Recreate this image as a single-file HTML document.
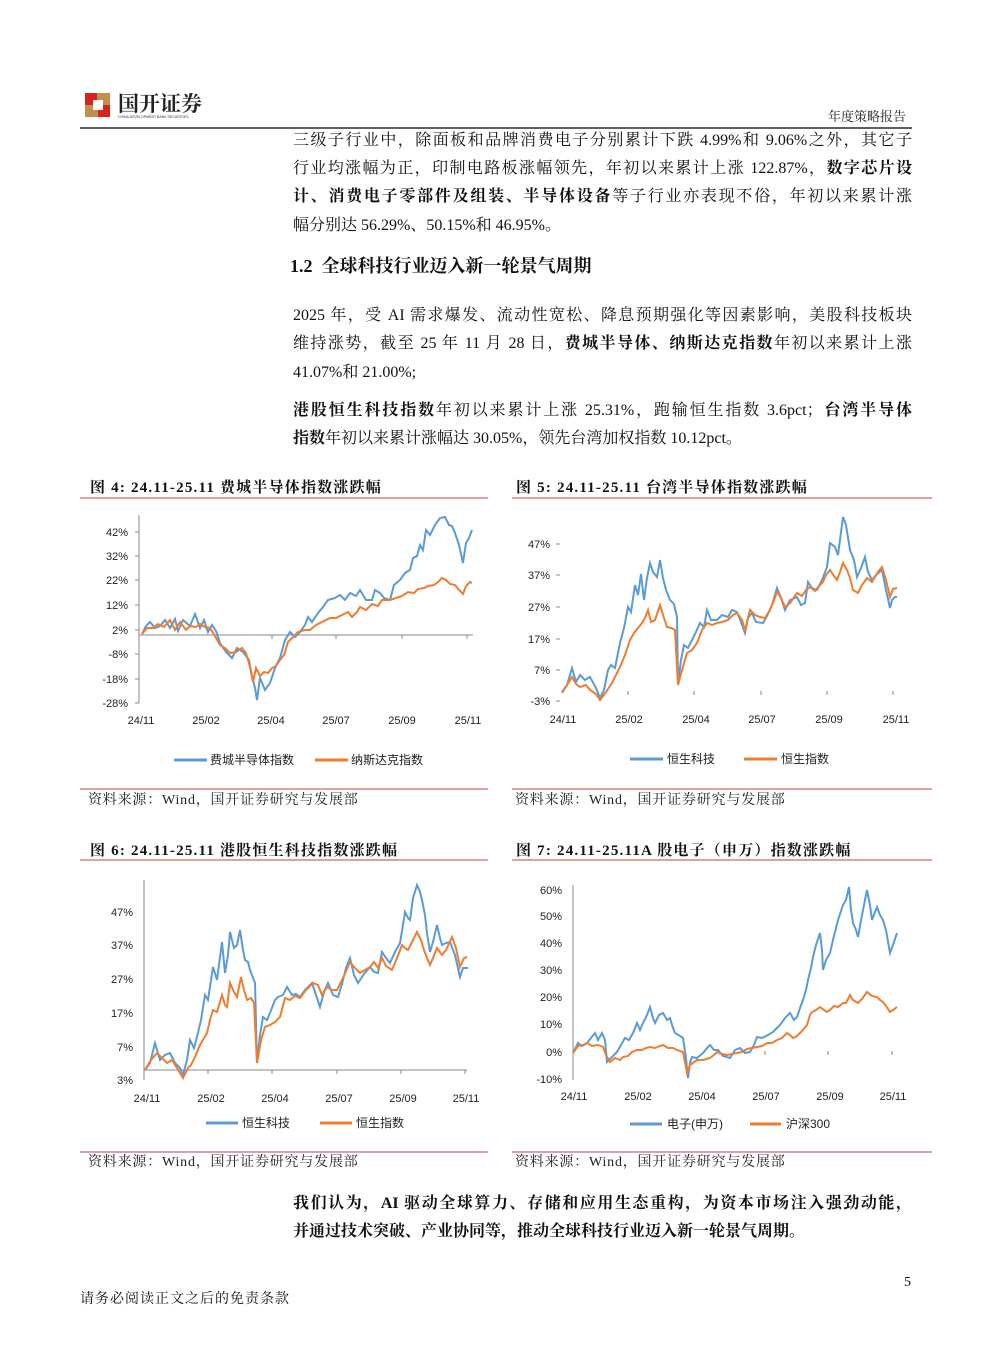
<!DOCTYPE html>
<html><head><meta charset="utf-8">
<style>
body{margin:0;background:#fff;}
#pg{position:relative;width:992px;height:1347px;overflow:hidden;background:#fff;font-family:"Liberation Serif","Noto Serif CJK SC",serif;color:#111;}
.t{position:absolute;font-size:16px;line-height:20px;white-space:nowrap;}
.j{width:619px;text-align:justify;text-align-last:justify;white-space:normal;height:20px;overflow:hidden;}
b{font-weight:bold;}
svg{position:absolute;left:0;top:0;}
</style></head><body><div id="pg">
<svg width="992" height="1347" viewBox="0 0 992 1347" font-family="Liberation Sans, Noto Sans CJK SC, sans-serif">
<!-- logo -->
<rect x="85" y="93" width="25" height="24" fill="#c0914e"/>
<rect x="85" y="93" width="12" height="12" fill="#d9211d"/>
<rect x="98" y="105" width="12" height="12" fill="#d9211d"/>
<rect x="93" y="100" width="10" height="10" fill="#fff"/>
<text x="118" y="111" font-size="21" font-weight="bold" font-family="Noto Serif CJK SC, serif" fill="#222">国开证券</text>
<text x="118" y="118" font-size="3.5" fill="#333">CHINA DEVELOPMENT BANK SECURITIES</text>
<text x="906" y="121" font-size="13" text-anchor="end" font-family="Noto Serif CJK SC, serif" fill="#222">年度策略报告</text>
<line x1="80" y1="128" x2="912" y2="128" stroke="#000" stroke-width="1.2"/>

<!-- figure frames -->
<g stroke="#d98080" stroke-width="1.5">
<line x1="80" y1="498" x2="488" y2="498"/><line x1="512" y1="498" x2="932" y2="498"/>
<line x1="80" y1="789" x2="488" y2="789"/><line x1="512" y1="789" x2="932" y2="789"/>
<line x1="80" y1="860" x2="488" y2="860"/><line x1="512" y1="860" x2="932" y2="860"/>
<line x1="80" y1="1152" x2="488" y2="1152"/><line x1="512" y1="1152" x2="932" y2="1152"/>
</g>
<g font-family="Liberation Serif, Noto Serif CJK SC, serif" font-size="15" font-weight="bold" fill="#111" letter-spacing="1.2">
<text x="90" y="492">图 4:  24.11-25.11 费城半导体指数涨跌幅</text>
<text x="516" y="492">图 5:  24.11-25.11 台湾半导体指数涨跌幅</text>
<text x="90" y="855">图 6:  24.11-25.11 港股恒生科技指数涨跌幅</text>
<text x="516" y="855">图 7:  24.11-25.11A 股电子（申万）指数涨跌幅</text>
</g>
<g font-family="Liberation Serif, Noto Serif CJK SC, serif" font-size="14" fill="#222" letter-spacing="0.8">
<text x="88" y="804">资料来源：Wind，国开证券研究与发展部</text>
<text x="515" y="804">资料来源：Wind，国开证券研究与发展部</text>
<text x="88" y="1166">资料来源：Wind，国开证券研究与发展部</text>
<text x="515" y="1166">资料来源：Wind，国开证券研究与发展部</text>
</g>

<g font-size="11" fill="#222">
<!-- chart 4 -->
<line x1="139" y1="515" x2="139" y2="703" stroke="#888"/>
<line x1="139" y1="635" x2="473" y2="635" stroke="#888"/>
<g stroke="#888"><line x1="135" y1="532" x2="139" y2="532"/><line x1="135" y1="556" x2="139" y2="556"/><line x1="135" y1="580" x2="139" y2="580"/><line x1="135" y1="605" x2="139" y2="605"/><line x1="135" y1="630" x2="139" y2="630"/><line x1="135" y1="654" x2="139" y2="654"/><line x1="135" y1="679" x2="139" y2="679"/><line x1="135" y1="703" x2="139" y2="703"/>
<line x1="272" y1="635" x2="272" y2="639"/><line x1="336" y1="635" x2="336" y2="639"/><line x1="402" y1="635" x2="402" y2="639"/><line x1="467" y1="635" x2="467" y2="639"/></g>
<g text-anchor="end"><text x="128" y="536">42%</text><text x="128" y="560">32%</text><text x="128" y="584">22%</text><text x="128" y="609">12%</text><text x="128" y="634">2%</text><text x="128" y="658">-8%</text><text x="128" y="683">-18%</text><text x="128" y="707">-28%</text></g>
<g text-anchor="middle"><text x="141" y="724">24/11</text><text x="206" y="724">25/02</text><text x="271" y="724">25/04</text><text x="336" y="724">25/07</text><text x="402" y="724">25/09</text><text x="468" y="724">25/11</text></g>
<polyline fill="none" stroke="#5b9bd5" stroke-width="2" points="142,634 146,626 150,622 155,628 160,626 165,620 170,628 175,619 178,631 183,620 190,626 195,614 200,628 204,620 208,632 212,625 216,631 220,643 226,652 232,658 237,648 243,652 249,660 252,676 255,688 257,700 260,678 265,690 270,683 275,668 280,658 285,640 290,632 295,637 300,632 305,625 308,617 312,622 318,613 323,607 328,600 335,598 340,595 345,600 350,593 356,596 360,590 366,600 372,600 375,590 380,593 384,598 390,600 394,585 400,580 405,573 410,570 413,558 417,556 420,545 423,550 426,530 430,535 435,525 440,518 445,517 449,525 452,526 455,533 459,545 463,563 466,543 469,538 472,530"/>
<polyline fill="none" stroke="#ed7d31" stroke-width="2" points="142,634 147,628 153,628 158,624 164,627 170,620 175,630 180,622 186,630 190,626 196,627 200,624 205,627 210,628 215,636 220,645 225,648 230,653 236,652 242,648 246,653 250,667 253,682 256,668 260,676 264,672 268,673 272,668 276,666 280,660 284,655 288,642 292,638 298,632 305,630 310,630 316,625 322,622 330,618 336,618 342,615 348,612 352,617 357,612 360,607 366,610 372,604 378,606 382,600 390,600 396,598 402,596 408,592 414,593 418,589 424,588 428,586 434,585 438,582 442,578 446,580 450,584 455,585 459,590 463,594 466,586 470,582 472,583"/>
<line x1="174" y1="760" x2="207" y2="760" stroke="#5b9bd5" stroke-width="3"/>
<text x="210" y="764" font-size="12">费城半导体指数</text>
<line x1="315" y1="760" x2="348" y2="760" stroke="#ed7d31" stroke-width="3"/>
<text x="351" y="764" font-size="12">纳斯达克指数</text>

<!-- chart 5 -->
<g stroke="#888"><line x1="556" y1="544" x2="560" y2="544"/><line x1="556" y1="575" x2="560" y2="575"/><line x1="556" y1="607" x2="560" y2="607"/><line x1="556" y1="639" x2="560" y2="639"/><line x1="556" y1="670" x2="560" y2="670"/><line x1="556" y1="701" x2="560" y2="701"/>
<line x1="628" y1="691" x2="628" y2="695"/><line x1="694" y1="691" x2="694" y2="695"/><line x1="761" y1="691" x2="761" y2="695"/><line x1="827" y1="691" x2="827" y2="695"/><line x1="893" y1="691" x2="893" y2="695"/></g>
<g text-anchor="end"><text x="550" y="548">47%</text><text x="550" y="579">37%</text><text x="550" y="611">27%</text><text x="550" y="643">17%</text><text x="550" y="674">7%</text><text x="550" y="705">-3%</text></g>
<g text-anchor="middle"><text x="563" y="723">24/11</text><text x="629" y="723">25/02</text><text x="696" y="723">25/04</text><text x="762" y="723">25/07</text><text x="829" y="723">25/09</text><text x="896" y="723">25/11</text></g>
<polyline fill="none" stroke="#5b9bd5" stroke-width="2" points="562,692 567,685 572,668 576,682 580,675 585,680 590,677 596,688 600,698 604,690 608,670 611,665 615,668 620,643 624,628 628,607 631,612 635,585 638,595 641,574 644,600 647,578 650,563 653,572 657,577 660,560 663,578 666,590 670,600 674,604 677,617 678,683 681,660 684,645 688,648 692,640 696,632 700,623 704,627 707,610 711,620 717,620 722,615 728,617 732,610 737,612 741,622 745,633 748,618 752,613 756,622 763,623 767,616 772,605 777,588 781,598 785,610 790,600 797,597 801,605 805,603 808,582 812,588 817,590 822,580 827,567 830,543 835,547 838,555 843,517 846,525 850,550 854,560 857,577 861,568 865,557 868,572 872,580 876,575 882,570 886,590 890,608 892,600 895,597 897,597"/>
<polyline fill="none" stroke="#ed7d31" stroke-width="2" points="562,693 567,685 572,677 576,684 580,687 586,685 590,690 596,694 600,700 606,692 612,683 620,667 625,655 630,640 634,633 638,628 642,623 645,618 648,610 651,622 655,620 660,605 664,618 667,627 671,628 675,630 678,685 682,670 687,653 692,650 697,643 702,630 707,623 712,625 717,623 722,622 728,620 733,615 737,613 742,620 745,630 750,610 755,615 760,617 765,618 770,610 774,600 777,592 781,598 785,607 790,603 797,593 802,596 806,590 810,587 815,591 818,587 823,582 826,575 830,570 834,576 837,580 840,572 843,563 847,570 850,578 853,590 858,593 862,585 867,578 872,582 878,572 882,567 886,580 890,597 893,589 897,588"/>
<line x1="630" y1="759" x2="663" y2="759" stroke="#5b9bd5" stroke-width="3"/>
<text x="667" y="763" font-size="12">恒生科技</text>
<line x1="744" y1="759" x2="777" y2="759" stroke="#ed7d31" stroke-width="3"/>
<text x="781" y="763" font-size="12">恒生指数</text>

<!-- chart 6 -->
<line x1="144" y1="880" x2="144" y2="1080" stroke="#888"/>
<line x1="144" y1="1070" x2="467" y2="1070" stroke="#888"/>
<g stroke="#888"><line x1="208" y1="1070" x2="208" y2="1074"/><line x1="272" y1="1070" x2="272" y2="1074"/><line x1="337" y1="1070" x2="337" y2="1074"/><line x1="401" y1="1070" x2="401" y2="1074"/><line x1="465" y1="1070" x2="465" y2="1074"/></g>
<g text-anchor="end"><text x="133" y="916">47%</text><text x="133" y="949">37%</text><text x="133" y="983">27%</text><text x="133" y="1017">17%</text><text x="133" y="1051">7%</text><text x="133" y="1084">3%</text></g>
<g text-anchor="middle"><text x="147" y="1102">24/11</text><text x="211" y="1102">25/02</text><text x="275" y="1102">25/04</text><text x="339" y="1102">25/07</text><text x="403" y="1102">25/09</text><text x="466" y="1102">25/11</text></g>
<polyline fill="none" stroke="#5b9bd5" stroke-width="2" points="145,1070 150,1063 155,1043 160,1060 165,1055 170,1053 175,1063 180,1068 183,1075 187,1060 190,1040 194,1048 197,1037 201,1020 205,995 208,1000 213,967 217,980 222,942 225,973 228,955 230,932 234,948 237,945 240,930 243,950 245,960 248,962 250,970 255,983 257,1063 260,1035 263,1017 267,1020 270,1013 275,1000 278,997 283,995 287,987 292,995 296,994 300,997 305,990 312,983 316,995 320,1007 324,992 328,983 333,995 338,997 342,984 346,968 350,958 354,975 358,983 364,974 370,967 374,972 378,973 382,952 386,958 390,963 395,952 400,943 403,925 405,912 408,918 410,920 413,898 417,885 420,892 422,900 425,915 427,933 430,952 433,942 437,925 440,938 442,945 446,943 450,942 455,955 460,977 463,968 468,968"/>
<polyline fill="none" stroke="#ed7d31" stroke-width="2" points="145,1070 151,1060 157,1053 162,1058 167,1063 172,1060 177,1068 183,1078 188,1068 191,1065 195,1057 200,1045 207,1033 210,1020 213,1010 217,1012 222,995 225,1005 227,1007 230,983 234,992 237,997 241,977 244,990 247,1000 251,998 254,1003 257,1063 261,1040 265,1027 270,1025 275,1022 280,1017 285,998 290,1000 295,996 300,998 306,990 313,983 318,985 322,995 327,987 332,990 337,990 343,978 350,962 355,968 360,973 365,970 370,967 374,962 378,968 382,958 386,966 392,970 397,958 402,945 405,948 408,950 412,942 417,932 421,940 424,950 427,958 430,965 433,958 437,948 442,955 446,950 452,937 456,948 460,967 464,958 467,957"/>
<line x1="206" y1="1123" x2="238" y2="1123" stroke="#5b9bd5" stroke-width="3"/>
<text x="242" y="1127" font-size="12">恒生科技</text>
<line x1="320" y1="1123" x2="352" y2="1123" stroke="#ed7d31" stroke-width="3"/>
<text x="356" y="1127" font-size="12">恒生指数</text>

<!-- chart 7 -->
<line x1="573" y1="885" x2="573" y2="1080" stroke="#888"/>
<g stroke="#888"><line x1="765" y1="1051" x2="765" y2="1055"/><line x1="828" y1="1051" x2="828" y2="1055"/><line x1="892" y1="1051" x2="892" y2="1055"/></g>
<g text-anchor="end"><text x="562" y="894">60%</text><text x="562" y="920">50%</text><text x="562" y="947">40%</text><text x="562" y="974">30%</text><text x="562" y="1001">20%</text><text x="562" y="1028">10%</text><text x="562" y="1056">0%</text><text x="562" y="1083">-10%</text></g>
<g text-anchor="middle"><text x="574" y="1100">24/11</text><text x="638" y="1100">25/02</text><text x="702" y="1100">25/04</text><text x="766" y="1100">25/07</text><text x="830" y="1100">25/09</text><text x="893" y="1100">25/11</text></g>
<polyline fill="none" stroke="#5b9bd5" stroke-width="2" points="573,1053 578,1043 582,1046 587,1043 591,1038 595,1033 598,1040 602,1033 605,1040 607,1062 611,1058 617,1052 621,1045 625,1038 629,1040 633,1033 637,1023 640,1030 643,1023 647,1015 650,1007 653,1018 655,1023 659,1015 663,1013 667,1020 670,1018 673,1028 675,1033 680,1036 683,1038 686,1058 688,1078 690,1063 692,1057 697,1058 703,1053 707,1048 710,1045 714,1050 718,1050 723,1056 730,1058 735,1050 740,1048 745,1053 750,1052 754,1045 757,1037 762,1038 768,1035 773,1032 777,1028 780,1025 785,1018 790,1013 794,1020 797,1017 800,1008 803,1000 806,990 808,980 811,968 813,957 816,945 820,933 822,950 823,970 826,960 830,953 833,940 835,932 838,920 843,905 846,900 849,887 851,910 853,923 856,930 858,937 862,915 867,890 870,905 872,920 875,912 877,907 880,915 883,920 886,930 890,953 893,945 897,933"/>
<polyline fill="none" stroke="#ed7d31" stroke-width="2" points="573,1053 578,1046 583,1045 587,1043 592,1046 598,1045 603,1047 606,1055 610,1062 615,1058 620,1060 623,1057 628,1056 632,1052 637,1050 642,1050 646,1048 650,1047 655,1048 660,1046 663,1045 668,1048 673,1048 677,1050 683,1052 687,1073 690,1065 697,1060 703,1060 710,1058 714,1055 717,1052 722,1054 727,1055 732,1054 737,1053 742,1052 747,1049 752,1048 757,1047 762,1046 767,1043 772,1043 777,1040 782,1038 787,1033 790,1035 793,1038 797,1036 803,1030 807,1025 810,1015 812,1012 816,1010 820,1007 824,1010 827,1012 830,1010 834,1006 838,1007 843,1003 846,1003 850,995 853,1000 858,1003 862,999 867,992 872,996 877,997 880,1000 883,1002 886,1006 890,1012 893,1010 897,1007"/>
<line x1="630" y1="1124" x2="662" y2="1124" stroke="#5b9bd5" stroke-width="3"/>
<text x="667" y="1128" font-size="12">电子(申万)</text>
<line x1="750" y1="1124" x2="781" y2="1124" stroke="#ed7d31" stroke-width="3"/>
<text x="786" y="1128" font-size="12">沪深300</text>
</g>
</svg>

<div class="t j" style="left:293px;top:131px">三级子行业中，除面板和品牌消费电子分别累计下跌 4.99%和 9.06%之外，其它子</div>
<div class="t j" style="left:293px;top:159px">行业均涨幅为正，印制电路板涨幅领先，年初以来累计上涨 122.87%，<b>数字芯片设</b></div>
<div class="t j" style="left:293px;top:187px"><b>计、消费电子零部件及组装、半导体设备</b>等子行业亦表现不俗，年初以来累计涨</div>
<div class="t" style="left:293px;top:216px">幅分别达 56.29%、50.15%和 46.95%。</div>
<div class="t" style="left:290px;top:256px;font-size:18px;font-weight:bold">1.2&nbsp; 全球科技行业迈入新一轮景气周期</div>
<div class="t j" style="left:293px;top:306px">2025 年，受 AI 需求爆发、流动性宽松、降息预期强化等因素影响，美股科技板块</div>
<div class="t j" style="left:293px;top:334px">维持涨势，截至 25 年 11 月 28 日，<b>费城半导体、纳斯达克指数</b>年初以来累计上涨</div>
<div class="t" style="left:293px;top:363px">41.07%和 21.00%;</div>
<div class="t j" style="left:293px;top:401px"><b>港股恒生科技指数</b>年初以来累计上涨 25.31%，跑输恒生指数 3.6pct；<b>台湾半导体</b></div>
<div class="t" style="left:293px;top:429px"><b>指数</b>年初以来累计涨幅达 30.05%，领先台湾加权指数 10.12pct。</div>
<div class="t j" style="left:293px;top:1194px"><b>我们认为，AI 驱动全球算力、存储和应用生态重构，为资本市场注入强劲动能，</b></div>
<div class="t" style="left:293px;top:1222px"><b>并通过技术突破、产业协同等，推动全球科技行业迈入新一轮景气周期。</b></div>
<div class="t" style="left:904px;top:1273px;font-size:14px">5</div>
<div class="t" style="left:80px;top:1290px;font-size:14px;letter-spacing:1px">请务必阅读正文之后的免责条款</div>
</div></body></html>
